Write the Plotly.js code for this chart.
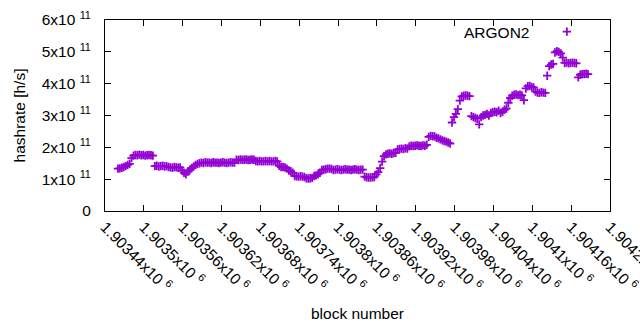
<!DOCTYPE html>
<html>
<head>
<meta charset="utf-8">
<script src="https://cdn.plot.ly/plotly-3.0.1.min.js"></script>
<style>html,body{margin:0;padding:0;background:#fff;}#chart{width:640px;height:330px;}</style>
</head>
<body>
<div id="chart"></div>
<script>
// first block shown and spacing between plotted samples (blocks)
const firstBlock = 1903460;
const blockStep = 3;
// hashrate [h/s] of ARGON2, one value per sample
const hashrate = [
  1.33e11, 1.34e11, 1.36e11,
  1.38e11, 1.41e11, 1.45e11, 1.48e11, 1.66e11,
  1.74e11, 1.76e11, 1.75e11, 1.77e11, 1.75e11, 1.76e11, 1.74e11, 1.75e11, 1.76e11, 1.75e11, 1.74e11,
  1.41e11, 1.42e11, 1.40e11, 1.41e11, 1.42e11, 1.40e11, 1.41e11,
  1.38e11, 1.37e11, 1.36e11, 1.38e11, 1.37e11, 1.36e11, 1.37e11,
  1.27e11, 1.20e11, 1.15e11, 1.24e11,
  1.30e11, 1.35e11, 1.40e11, 1.45e11, 1.48e11, 1.50e11,
  1.52e11, 1.51e11, 1.53e11, 1.52e11, 1.52e11, 1.51e11, 1.53e11, 1.52e11, 1.52e11,
  1.51e11, 1.52e11, 1.53e11, 1.52e11, 1.51e11, 1.52e11, 1.53e11, 1.52e11, 1.52e11,
  1.61e11, 1.60e11, 1.62e11, 1.61e11, 1.61e11, 1.62e11, 1.60e11, 1.61e11, 1.62e11, 1.61e11,
  1.57e11, 1.56e11, 1.57e11, 1.56e11, 1.56e11, 1.57e11, 1.56e11, 1.57e11, 1.56e11, 1.56e11, 1.57e11, 1.56e11,
  1.42e11, 1.38e11, 1.38e11, 1.37e11, 1.33e11,
  1.27e11, 1.25e11, 1.20e11,
  1.10e11, 1.09e11, 1.08e11, 1.09e11, 1.08e11, 1.07e11,
  1.03e11, 1.02e11, 1.03e11, 1.04e11,
  1.10e11, 1.12e11, 1.15e11, 1.20e11,
  1.29e11, 1.30e11, 1.31e11, 1.33e11, 1.33e11, 1.32e11, 1.29e11,
  1.30e11, 1.31e11, 1.30e11, 1.29e11, 1.30e11, 1.31e11, 1.30e11, 1.30e11, 1.29e11, 1.30e11, 1.31e11, 1.30e11, 1.29e11, 1.30e11, 1.30e11,
  1.08e11, 1.06e11, 1.05e11, 1.05e11, 1.06e11, 1.07e11,
  1.15e11, 1.22e11, 1.35e11, 1.55e11,
  1.72e11, 1.78e11, 1.80e11, 1.81e11, 1.80e11, 1.82e11, 1.83e11,
  1.93e11, 1.95e11, 1.96e11, 1.95e11, 1.97e11, 1.96e11,
  2.03e11, 2.05e11, 2.04e11, 2.05e11, 2.06e11, 2.05e11, 2.04e11, 2.06e11, 2.05e11, 2.08e11,
  2.33e11, 2.36e11, 2.35e11, 2.34e11, 2.30e11, 2.28e11,
  2.25e11, 2.22e11, 2.20e11, 2.18e11, 2.15e11, 2.12e11,
  2.78e11,
  2.95e11, 3.05e11, 3.20e11, 3.47e11,
  3.60e11, 3.62e11, 3.63e11, 3.62e11, 3.61e11,
  2.98e11, 2.95e11, 2.92e11, 2.90e11,
  2.72e11,
  2.95e11,
  3.00e11, 3.02e11, 3.05e11, 3.00e11, 3.08e11, 3.10e11,
  3.12e11, 3.10e11, 3.15e11, 3.08e11, 3.12e11, 3.18e11,
  3.22e11, 3.40e11, 3.55e11,
  3.62e11, 3.65e11, 3.66e11, 3.64e11, 3.65e11, 3.63e11, 3.48e11, 3.85e11,
  3.92e11, 3.93e11, 3.90e11, 3.88e11, 3.75e11,
  3.72e11, 3.71e11, 3.73e11, 3.72e11, 3.71e11,
  4.25e11,
  4.55e11, 4.60e11, 4.62e11,
  4.98e11, 5.02e11, 5.00e11, 4.95e11,
  4.82e11,
  4.65e11, 4.66e11, 4.64e11, 4.65e11, 4.66e11, 4.65e11, 4.64e11,
  4.20e11,
  4.28e11, 4.30e11, 4.30e11, 4.31e11, 4.30e11
];
const seriesName = 'ARGON2';

// axis ticks
const xTickVals = [1903440, 1903500, 1903560, 1903620, 1903680, 1903740, 1903800,
                   1903860, 1903920, 1903980, 1904040, 1904100, 1904160, 1904220];
const xTickText = ['1.90344x10 <sup>6</sup>', '1.9035x10 <sup>6</sup>', '1.90356x10 <sup>6</sup>',
                   '1.90362x10 <sup>6</sup>', '1.90368x10 <sup>6</sup>', '1.90374x10 <sup>6</sup>',
                   '1.9038x10 <sup>6</sup>', '1.90386x10 <sup>6</sup>', '1.90392x10 <sup>6</sup>',
                   '1.90398x10 <sup>6</sup>', '1.90404x10 <sup>6</sup>', '1.9041x10 <sup>6</sup>',
                   '1.90416x10 <sup>6</sup>', '1.90422x10 <sup>6</sup>'];
const yTickVals = [0, 1e11, 2e11, 3e11, 4e11, 5e11, 6e11];
const yTickText = ['0', '1x10 <sup>11</sup>', '2x10 <sup>11</sup>', '3x10 <sup>11</sup>',
                   '4x10 <sup>11</sup>', '5x10 <sup>11</sup>', '6x10 <sup>11</sup>'];

const purple = '#9400D3';
const font = {family: '"Liberation Sans", Arial, sans-serif', size: 15.5, color: '#000'};

const trace = {
  type: 'scatter', mode: 'markers',
  x0: firstBlock, dx: blockStep, y: hashrate,
  name: ' ',
  marker: {symbol: 'cross-thin', size: 6, color: purple, line: {color: purple, width: 1.8}},
  hoverinfo: 'skip'
};

const layout = {
  width: 640, height: 330,
  margin: {l: 105, r: 30, t: 20, b: 119, pad: 0},
  paper_bgcolor: '#fff', plot_bgcolor: '#fff',
  font: font,
  showlegend: true,
  legend: {x: 0.875, y: 0.937, xanchor: 'left', yanchor: 'middle', bgcolor: 'rgba(0,0,0,0)',
           borderwidth: 0, font: font, itemwidth: 30},
  xaxis: {
    range: [1903440, 1904220], tickmode: 'array', tickvals: xTickVals, ticktext: xTickText,
    tickangle: 45, ticks: 'inside', ticklen: 6, tickcolor: '#000', showline: true, linecolor: '#000',
    linewidth: 1, mirror: 'ticks', showgrid: false, zeroline: false, tickfont: font,
    ticklabeloverflow: 'allow',
    title: {text: 'block number', font: font, standoff: 14}, automargin: false
  },
  yaxis: {
    range: [0, 6e11], tickmode: 'array', tickvals: yTickVals, ticktext: yTickText,
    ticks: 'inside', ticklen: 6, tickcolor: '#000', showline: true, linecolor: '#000',
    linewidth: 1, mirror: 'ticks', showgrid: false, zeroline: false, tickfont: font,
    ticklabelstandoff: 10,
    title: {text: 'hashrate [h/s]', font: font, standoff: 12}, automargin: false
  },
  annotations: [{xref: 'paper', yref: 'paper', x: 0.8436, y: 0.937, xanchor: 'right', yanchor: 'middle',
                 text: seriesName, showarrow: false, font: font}]
};

Plotly.newPlot('chart', [trace], layout, {displayModeBar: false, staticPlot: true});
</script>
</body>
</html>
